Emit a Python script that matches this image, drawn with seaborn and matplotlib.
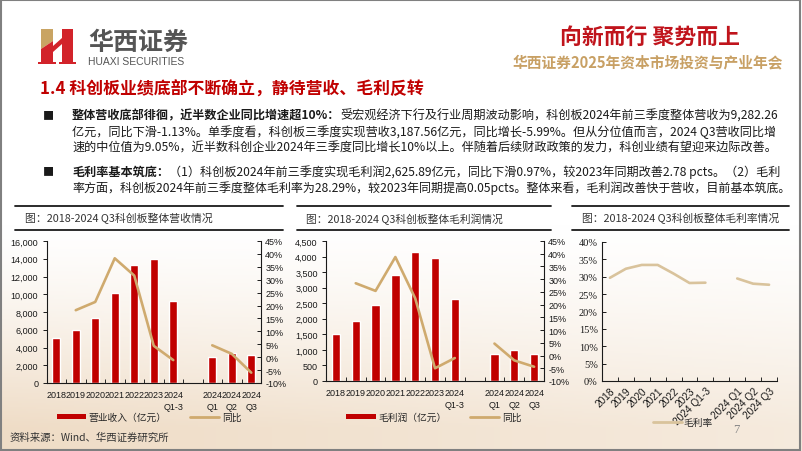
import numpy as np
import pandas as pd
import matplotlib
matplotlib.use('Agg')
import matplotlib.pyplot as plt
from matplotlib import font_manager
from matplotlib.patches import Patch, Polygon
from matplotlib.lines import Line2D
import seaborn as sns

# chart data
categories = ['2018', '2019', '2020', '2021', '2022', '2023', '2024\nQ1-3', ' ', '2024\nQ1', '2024\nQ2', '2024\nQ3']
categories_flat = ['2018', '2019', '2020', '2021', '2022', '2023', '2024 Q1-3', '', '2024 Q1', '2024 Q2', '2024 Q3']
segment = [0, 0, 0, 0, 0, 0, 0, -1, 1, 1, 1]
revenue = [5020, 5990, 7270, 10110, 13330, 13970, 9282.26, np.nan, 2900, 3430, 3187.56]
revenue_yoy = [np.nan, 18.2, 21.4, 38.3, 31.6, 4.4, -1.13, np.nan, 4.6, 1.3, -5.99]
gross_profit = [1510, 1940, 2455, 3410, 4160, 3955, 2625.89, np.nan, 860, 990, 860]
gross_profit_yoy = [np.nan, 28.4, 25.4, 38.7, 22.5, -5.0, -0.97, np.nan, 4.7, -1.9, -4.4]
gross_margin = [29.7, 32.3, 33.4, 33.4, 30.9, 28.2, 28.29, np.nan, 29.5, 28.0, 27.7]

RED = '#C00000'
TAN = '#CFAA6E'
TAN_LIGHT = '#D9C39C'
W, H = 802, 452

sns.set_theme(style='white')
plt.rcParams['font.family'] = ['Noto Sans CJK SC', 'DejaVu Sans']
plt.rcParams['axes.unicode_minus'] = False

# narrow digits for the crowded category axes, if the font is there
installed = {f.name for f in font_manager.fontManager.ttflist}
if 'Liberation Sans Narrow' in installed:
    TICK_FONT = {'family': 'Liberation Sans Narrow', 'size': 7.5}
else:
    TICK_FONT = {'family': 'Liberation Sans', 'size': 6.5}

fig = plt.figure(figsize=(W / 100, H / 100), dpi=100)
renderer = fig.canvas.get_renderer()


def P(x, y):
    return x / W, 1 - y / H


# background with warm glow at the bottom
bg = fig.add_axes([0, 0, 1, 1], zorder=-10)
yy, xx = np.mgrid[0:1:226j, 0:1:401j]
w = np.clip((yy - 0.5) / 0.45, 0, 1) ** 1.3 * (0.85 - 0.35 * xx)
warm = np.array([236, 214, 188]) / 255
bg.imshow(1 - w[..., None] * (1 - warm), extent=[0, 1, 0, 1], aspect='auto')
bg.set_xlim(0, 1)
bg.set_ylim(0, 1)
bg.axis('off')
bg.add_patch(plt.Rectangle((0.001, 0.002), 0.997, 0.996, fill=False, ec='#808080', lw=1.5))


def draw_parts(x, y, parts, size, color, family):
    arts = []
    cx = x
    for s, bold in parts:
        t = fig.text(cx / W, 1 - y / H, s, fontsize=size, color=color, va='center', ha='left',
                     fontweight='bold' if bold else 'normal',
                     family=family if family else plt.rcParams['font.family'])
        cx = t.get_window_extent(renderer).x1
        arts.append(t)
    return arts, cx


def fit_text(x, y, parts, x_end=None, size=9, color='#1a1a1a', family=None):
    # parts: list of (text, bold); font size is scaled so the line ends at x_end
    arts, cx = draw_parts(x, y, parts, size, color, family)
    if x_end is None:
        return size
    for _ in range(3):
        new_size = size * (x_end - x) / (cx - x)
        if abs(new_size - size) < 0.02:
            break
        for t in arts:
            t.remove()
        size = new_size
        arts, cx = draw_parts(x, y, parts, size, color, family)
    return size


# header: logo
for pts, col in [
    ([(41, 30), (53, 30), (53, 42), (41, 50)], '#C9A463'),
    ([(41, 50), (53, 42), (53, 63), (41, 63)], '#D2232A'),
    ([(53, 47), (62, 39), (62, 45), (53, 53)], '#D2232A'),
    ([(62, 30), (73, 30), (73, 63), (62, 63)], '#D2232A'),
    ([(38, 63), (56, 63), (56, 65), (38, 65)], '#D2232A'),
    ([(59, 63), (76, 63), (76, 65), (59, 65)], '#D2232A'),
]:
    bg.add_patch(Polygon([(px / W, 1 - py / H) for px, py in pts], closed=True, fc=col, ec='none'))

fit_text(88, 43, [('华西证券', True)], x_end=188, size=17, color='#555555')
fit_text(88, 62, [('HUAXI SECURITIES', False)], x_end=184, size=8.5, color='#555555', family='Liberation Sans')
fit_text(560, 37, [('向新而行 聚势而上', True)], x_end=740, size=15, color='#C0141C')
fit_text(513, 62, [('华西证券2025年资本市场投资与产业年会', True)], x_end=783, size=10.5, color='#C8A064')

# section title and bullets
fit_text(40, 90, [('1.4 科创板业绩底部不断确立，静待营收、毛利反转', True)], x_end=424, size=11.5, color=RED)

for yb in [116, 172]:
    fig.text(*P(43, yb), '■', fontsize=8, color='#1a1a1a', va='center', ha='left')

fit_text(72, 116, [('整体营收底部徘徊，近半数企业同比增速超10%：', True),
                   ('受宏观经济下行及行业周期波动影响，科创板2024年前三季度整体营收为9,282.26', False)], x_end=777)
s2 = fit_text(72, 132, [('亿元，同比下滑-1.13%。单季度看，科创板三季度实现营收3,187.56亿元，同比增长-5.99%。但从分位值而言，2024 Q3营收同比增', False)],
              x_end=777)
fit_text(72, 148, [('速的中位值为9.05%，近半数科创企业2024年三季度同比增长10%以上。伴随着后续财政政策的发力，科创业绩有望迎来边际改善。', False)],
         size=s2)
fit_text(72, 172, [('毛利率基本筑底：', True),
                   ('（1）科创板2024年前三季度实现毛利润2,625.89亿元，同比下滑0.97%，较2023年同期改善2.78 pcts。（2）毛利', False)],
         x_end=781)
fit_text(72, 188, [('率方面，科创板2024年前三季度整体毛利率为28.29%，较2023年同期提高0.05pcts。整体来看，毛利润改善快于营收，目前基本筑底。', False)],
         x_end=792)

# chart headers
for x0, x1, title, tx0, tx1 in [(15, 283, '图：2018-2024 Q3科创板整体营收情况', 25, 212),
                                (297, 551, '图：2018-2024 Q3科创板整体毛利润情况', 306, 503),
                                (572, 789, '图：2018-2024 Q3科创板整体毛利率情况', 582, 780)]:
    fig.add_artist(Line2D([x0 / W, x1 / W], [1 - 207 / H] * 2, color='#1a1a1a', lw=1.3))
    fig.add_artist(Line2D([x0 / W, x1 / W], [1 - 231 / H] * 2, color='#1a1a1a', lw=1.3))
    fit_text(tx0, 219, [(title, False)], x_end=tx1, size=9.5, color='#333333')


def combo_chart(rect, values, yoy, vmax, step, bar_label, legend_xy):
    ax = fig.add_axes(rect)
    ax.set_facecolor('none')
    df = pd.DataFrame({'cat': categories, 'val': values, 'yoy': yoy,
                       'pos': np.arange(len(categories)), 'seg': segment})
    sns.barplot(data=df, x='cat', y='val', order=categories, color=RED, saturation=1,
                width=0.42, ax=ax)
    axr = ax.twinx()
    sns.lineplot(data=df[df.seg >= 0], x='pos', y='yoy', units='seg', estimator=None,
                 color=TAN, lw=1.9, ax=axr)
    ax.set_xlim(-0.5, len(categories) - 0.5)
    ax.set_ylim(0, vmax)
    ticks = np.arange(0, vmax + 1, step)
    ax.set_yticks(ticks)
    ax.set_yticklabels([f'{int(v):,}' for v in ticks], fontdict=TICK_FONT)
    axr.set_ylim(-10, 45)
    rticks = np.arange(-10, 46, 5)
    axr.set_yticks(rticks)
    axr.set_yticklabels([f'{v}%' for v in rticks], fontdict=TICK_FONT)
    ax.set_xticks(range(len(categories)))
    ax.set_xticklabels(categories, fontdict=TICK_FONT, linespacing=1.5, va='top')
    ax.set_xticks(np.arange(-0.5, len(categories), 1), minor=True)
    ax.tick_params(axis='x', which='major', length=0, pad=5, colors='#1a1a1a')
    ax.tick_params(axis='x', which='minor', length=3, direction='in', bottom=True, width=0.7)
    ax.tick_params(axis='y', length=3, direction='out', left=True, width=0.7, pad=3, colors='#1a1a1a')
    axr.tick_params(axis='y', length=3, direction='in', right=True, width=0.7, pad=3, colors='#1a1a1a')
    for a in (ax, axr):
        a.set_xlabel('')
        a.set_ylabel('')
        for sp in a.spines.values():
            sp.set_color('#1a1a1a')
            sp.set_linewidth(0.8)
        a.spines['top'].set_visible(False)
    ax.spines['right'].set_visible(False)
    axr.spines['left'].set_visible(False)
    axr.spines['bottom'].set_visible(False)
    handles = [Patch(facecolor=RED, edgecolor='none'), Line2D([0], [0], color=TAN, lw=2)]
    axr.legend(handles, [bar_label, '同比'], loc='center', bbox_to_anchor=P(*legend_xy),
               bbox_transform=fig.transFigure, ncol=2, frameon=False, fontsize=7,
               handlelength=3.0, handleheight=0.45, columnspacing=2.4, handletextpad=0.3)
    return ax, axr


combo_chart([46.5 / W, 1 - 384 / H, (261 - 46.5) / W, (384 - 242) / H],
            revenue, revenue_yoy, 16000, 2000, '营业收入（亿元）', (149, 418))
combo_chart([326 / W, 1 - 382 / H, (544 - 326) / W, (382 - 242) / H],
            gross_profit, gross_profit_yoy, 4500, 500, '毛利润（亿元）', (434, 418))

# gross margin line chart
ax3 = fig.add_axes([602 / W, 1 - 382 / H, (777 - 602) / W, (382 - 243) / H])
ax3.set_facecolor('none')
df3 = pd.DataFrame({'pos': np.arange(len(categories)), 'margin': gross_margin, 'seg': segment})
sns.lineplot(data=df3[df3.seg >= 0], x='pos', y='margin', units='seg', estimator=None,
             color=TAN_LIGHT, lw=1.9, ax=ax3)
ax3.set_xlim(-0.5, len(categories) - 0.5)
ax3.set_ylim(0, 40)
mticks = np.arange(0, 41, 5)
ax3.set_yticks(mticks)
ax3.set_yticklabels([f'{v}%' for v in mticks], fontdict={'family': 'Liberation Serif', 'size': 7.5})
ax3.set_xticks(range(len(categories)))
ax3.set_xticklabels(categories_flat, fontdict={'family': 'Liberation Sans', 'size': 7.3},
                    rotation=45, ha='right', rotation_mode='anchor')
ax3.set_xticks(np.arange(-0.5, len(categories), 1), minor=True)
ax3.tick_params(axis='x', which='major', length=0, pad=3, colors='#1a1a1a')
ax3.tick_params(axis='x', which='minor', length=3, direction='in', bottom=True, width=0.7)
ax3.tick_params(axis='y', length=3, direction='in', left=True, width=0.7, pad=3, colors='#1a1a1a')
ax3.set_xlabel('')
ax3.set_ylabel('')
for sp in ax3.spines.values():
    sp.set_color('#1a1a1a')
    sp.set_linewidth(0.8)
ax3.spines['top'].set_visible(False)
ax3.spines['right'].set_visible(False)
ax3.legend([Line2D([0], [0], color=TAN_LIGHT, lw=2)], ['毛利率'], loc='center',
           bbox_to_anchor=P(683, 423), bbox_transform=fig.transFigure, frameon=False,
           fontsize=7, handlelength=3.0, handletextpad=0.1)

# footer
fig.text(*P(10, 438), '资料来源：Wind、华西证券研究所', fontsize=7.5, color='#333333', va='center', ha='left')
fig.text(*P(736, 430), '7', fontsize=9, color='#888888', va='center', ha='center', family='Liberation Serif')

fig.savefig('out.png', dpi=100)
